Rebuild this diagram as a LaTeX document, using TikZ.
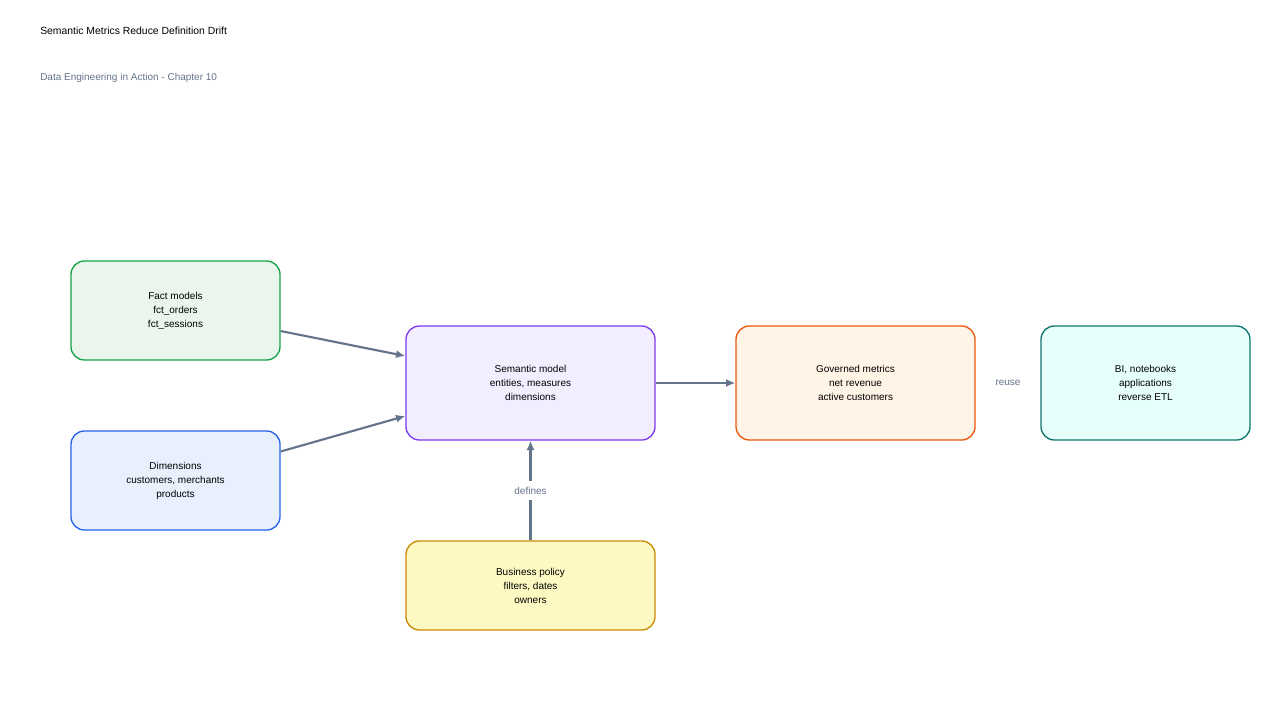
\documentclass[tikz,border=0pt]{standalone}
\usepackage{fontspec}
\setmainfont{Liberation Sans}
\usetikzlibrary{arrows.meta,positioning}
\definecolor{edge}{HTML}{64748B}
\definecolor{factD}{HTML}{16A34A}\definecolor{factF}{HTML}{EAF6EC}
\definecolor{dimD}{HTML}{2563EB}\definecolor{dimF}{HTML}{E8F0FE}
\definecolor{semD}{HTML}{7C3AED}\definecolor{semF}{HTML}{F3EEFF}
\definecolor{govD}{HTML}{EA580C}\definecolor{govF}{HTML}{FFF4E6}
\definecolor{biD}{HTML}{0F766E}\definecolor{biF}{HTML}{E6FFFA}
\definecolor{polD}{HTML}{CA8A04}\definecolor{polF}{HTML}{FEF9C3}
\tikzset{
  box/.style={draw=#1D, fill=#1F, line width=1pt, rounded corners=10pt, align=center,
    font=\fontsize{7.5pt}{10.5pt}\selectfont, inner sep=0pt},
  flow/.style={-{Latex[length=7pt,width=6pt]}, draw=edge, line width=1.6pt},
  lbl/.style={font=\fontsize{7.5pt}{9pt}\selectfont, text=edge}
}
\begin{document}
\begin{tikzpicture}[x=0.75pt,y=-0.75pt]
\useasboundingbox (0,0) rectangle (1280,720);
\node[anchor=west, inner sep=0pt, font=\fontsize{7.8pt}{9pt}\selectfont] (title) at (40,31) {Semantic Metrics Reduce Definition Drift};
\node[anchor=west, inner sep=0pt, lbl] (sub) at (40,78) {Data Engineering in Action - Chapter 10};

\node[box=fact, minimum width=156.75pt, minimum height=74.25pt] (fact) at (175.5,310.5) {Fact models\\fct\_orders\\fct\_sessions};
\node[box=dim, minimum width=156.75pt, minimum height=74.25pt] (dims) at (175.5,480.5) {Dimensions\\customers, merchants\\products};
\node[box=sem, minimum width=186.75pt, minimum height=85.5pt] (sem) at (530.5,383) {Semantic model\\entities, measures\\dimensions};
\node[box=gov, minimum width=179.25pt, minimum height=85.5pt] (gov) at (855.5,383) {Governed metrics\\net revenue\\active customers};
\node[box=bi, minimum width=156.75pt, minimum height=85.5pt] (bi) at (1145.5,383) {BI, notebooks\\applications\\reverse ETL};
\node[box=pol, minimum width=186.75pt, minimum height=66.75pt] (pol) at (530.5,585.5) {Business policy\\filters, dates\\owners};

\draw[flow] ([yshift=-15.4pt]fact.east) -- ([yshift=20.25pt]sem.west);
\draw[flow] ([yshift=21.75pt]dims.east) -- ([yshift=-24.75pt]sem.west);
\draw[flow] (sem) -- (gov);
\draw[flow] (pol) -- node[lbl, fill=white, inner sep=4pt] {defines} (sem);
\path (gov) -- node[lbl] {reuse} (bi);
\end{tikzpicture}
\end{document}
